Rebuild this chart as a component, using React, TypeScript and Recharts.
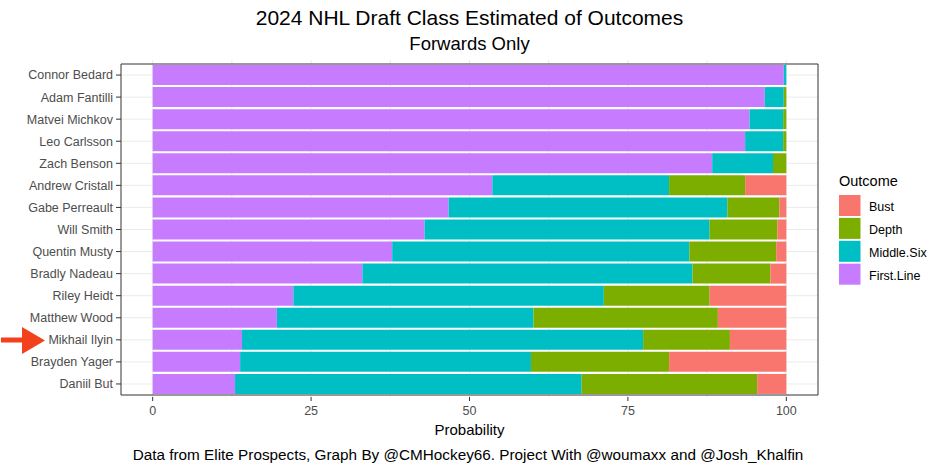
import React from 'react';
import { BarChart, Bar, XAxis, YAxis, CartesianGrid, ReferenceArea } from 'recharts';

const players = [
  'Connor Bedard', 'Adam Fantilli', 'Matvei Michkov', 'Leo Carlsson', 'Zach Benson',
  'Andrew Cristall', 'Gabe Perreault', 'Will Smith', 'Quentin Musty', 'Bradly Nadeau',
  'Riley Heidt', 'Matthew Wood', 'Mikhail Ilyin', 'Brayden Yager', 'Daniil But'
];

const firstLine = [99.6, 96.6, 94.2, 93.5, 88.3, 53.6, 46.7, 42.9, 37.8, 33.1, 22.2, 19.6, 14.1, 13.8, 13.0];
const middleSix = [0.4, 3.0, 5.3, 6.0, 9.6, 27.9, 44.0, 45.0, 46.9, 52.1, 49.0, 40.5, 63.3, 45.9, 54.7];
const depth = [0, 0.4, 0.5, 0.5, 2.1, 12.0, 8.2, 10.7, 13.7, 12.3, 16.7, 29.1, 13.7, 21.8, 27.7];
const bust = [0, 0, 0, 0, 0, 6.5, 1.1, 1.4, 1.6, 2.5, 12.1, 10.8, 8.9, 18.5, 4.6];

const xTicks = [0, 25, 50, 75, 100];
const gridValues = [0, 12.5, 25, 37.5, 50, 62.5, 75, 87.5, 100];

// stacking order left to right
const series = [
  { key: 'First.Line', color: '#C77CFF' },
  { key: 'Middle.Six', color: '#00BFC4' },
  { key: 'Depth', color: '#7CAE00' },
  { key: 'Bust', color: '#F8766D' }
];

const data = players.map((name, i) => ({
  name,
  'First.Line': firstLine[i],
  'Middle.Six': middleSix[i],
  Depth: depth[i],
  Bust: bust[i]
}));

const font = '"Liberation Sans", Arial, sans-serif';
const tickStyle = { fill: '#4D4D4D', fontSize: 12.5, fontFamily: font };

export default function App() {
  const legendItems = [...series].reverse();
  return (
    <div style={{ position: 'absolute', left: 0, top: 0, width: 939, height: 468, background: '#fff' }}>
      <BarChart
        layout="vertical"
        width={939}
        height={468}
        data={data}
        margin={{ top: 60, right: 121, bottom: 41, left: 0 }}
      >
        <CartesianGrid stroke="#EBEBEB" verticalValues={gridValues} horizontalValues={players} />
        <XAxis
          type="number"
          domain={[-5, 105]}
          ticks={xTicks}
          height={30}
          axisLine={false}
          tickSize={4}
          tickMargin={5}
          tickLine={{ stroke: '#333333' }}
          tick={tickStyle}
        />
        <YAxis
          type="category"
          dataKey="name"
          width={121}
          axisLine={false}
          tickSize={5}
          tickMargin={3}
          tickLine={{ stroke: '#333333' }}
          tick={tickStyle}
          padding={{ top: 4, bottom: 2 }}
          interval={0}
        />
        {series.map((s) => (
          <Bar key={s.key} dataKey={s.key} stackId="a" fill={s.color} barSize={20} isAnimationActive={false} />
        ))}
        <ReferenceArea x1={-5} x2={105} fill="none" stroke="#333333" strokeWidth={1} />
      </BarChart>

      <svg width={939} height={468} style={{ position: 'absolute', left: 0, top: 0, pointerEvents: 'none' }}>
        <g fontFamily={font} textAnchor="middle">
          <text x={469.5} y={25} fontSize={21} fill="#000">2024 NHL Draft Class Estimated of Outcomes</text>
          <text x={469.5} y={50} fontSize={18.5} fill="#000">Forwards Only</text>
          <text x={469.5} y={435} fontSize={15} fill="#000">Probability</text>
          <text x={468} y={460} fontSize={15.3} fill="#000">
            Data from Elite Prospects, Graph By @CMHockey66. Project With @woumaxx and @Josh_Khalfin
          </text>
        </g>

        <g fontFamily={font}>
          <text x={839} y={186} fontSize={14.5} fill="#000">Outcome</text>
          {legendItems.map((s, i) => (
            <g key={s.key}>
              <rect x={839} y={195 + i * 22.9} width={21.5} height={21} fill={s.color} />
              <text x={869} y={211 + i * 22.9} fontSize={12.5} fill="#000">{s.key}</text>
            </g>
          ))}
        </g>

        <g fill="#F4411D">
          <rect x={1} y={337.5} width={22} height={5} />
          <polygon points="22,327 45,340.5 22,354" />
        </g>
      </svg>
    </div>
  );
}
